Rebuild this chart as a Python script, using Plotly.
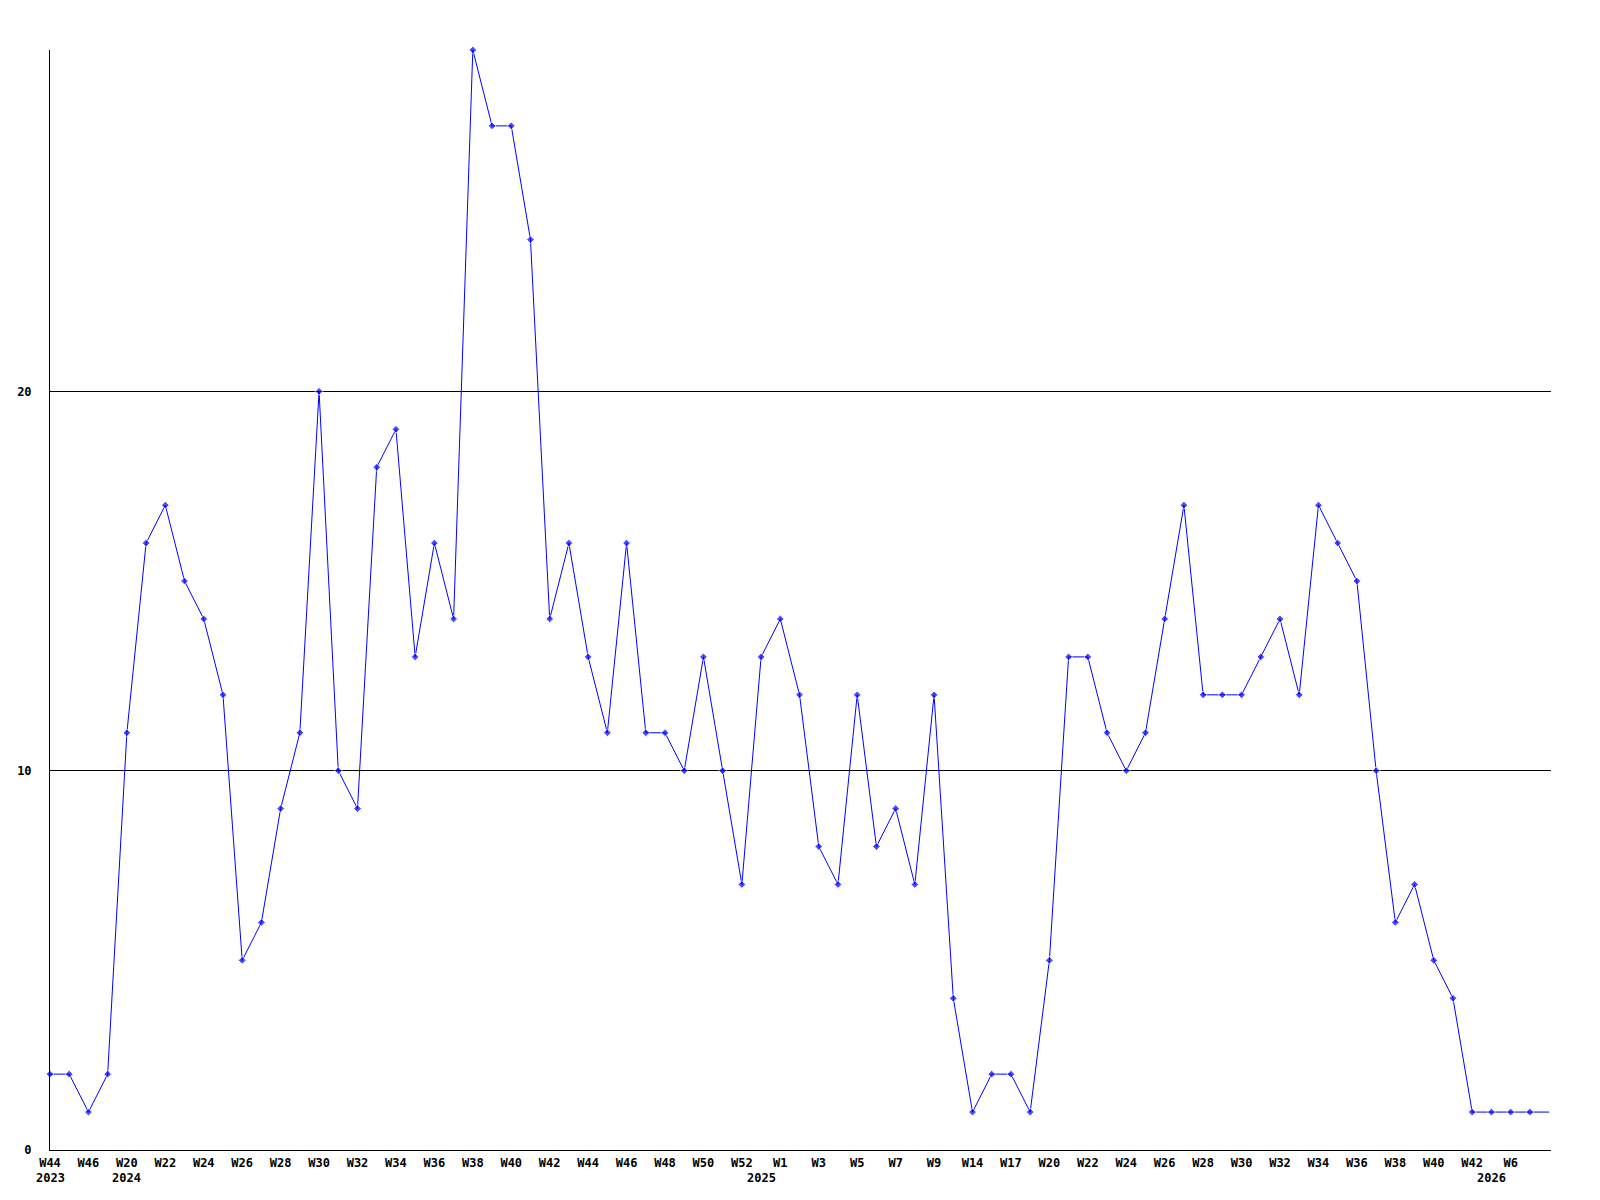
import plotly.graph_objects as go

# Weekly counts (one value per plotted week, left to right)
values = [2, 2, 1, 2, 11, 16, 17, 15, 14, 12, 5, 6, 9, 11, 20, 10, 9, 18, 19, 13,
          16, 14, 29, 27, 27, 24, 14, 16, 13, 11, 16, 11, 11, 10, 13, 10, 7, 13, 14, 12,
          8, 7, 12, 8, 9, 7, 12, 4, 1, 2, 2, 1, 5, 13, 13, 11, 10, 11, 14, 17,
          12, 12, 12, 13, 14, 12, 17, 16, 15, 10, 6, 7, 5, 4, 1, 1, 1, 1, 1]

# Tick labels shown every other week
tick_labels = ["W44", "W46", "W20", "W22", "W24", "W26", "W28", "W30", "W32", "W34",
               "W36", "W38", "W40", "W42", "W44", "W46", "W48", "W50", "W52", "W1",
               "W3", "W5", "W7", "W9", "W14", "W17", "W20", "W22", "W24", "W26",
               "W28", "W30", "W32", "W34", "W36", "W38", "W40", "W42", "W6"]
tick_positions = list(range(0, 2 * len(tick_labels), 2))

# Year labels and the point index where each year starts
year_labels = ["2023", "2024", "2025", "2026"]
year_positions = [0, 4, 37, 75]

x = list(range(len(values)))
marker_sizes = [6] * (len(values) - 1) + [0]

FONT = "DejaVu Sans Mono"
FS = 12

fig = go.Figure()
fig.add_trace(go.Scatter(
    x=x, y=values, mode="lines+markers",
    line=dict(color="#0000ff", width=1),
    marker=dict(symbol="diamond", size=marker_sizes, color="#0000ff"),
    showlegend=False, hoverinfo="skip", cliponaxis=False,
))

for lab, pos in zip(year_labels, year_positions):
    fig.add_annotation(x=pos, y=0, xref="x", yref="paper", text=lab,
                       showarrow=False, yanchor="top", yshift=-19,
                       font=dict(family=FONT, size=FS, color="black", weight="bold"))

fig.update_layout(
    width=1600, height=1200,
    margin=dict(l=42, r=57, t=42, b=58, autoexpand=False),
    paper_bgcolor="white", plot_bgcolor="white",
    showlegend=False,
    font=dict(family=FONT, size=FS, color="black", weight="bold"),
)
fig.update_xaxes(
    range=[0, len(values) - 1 + 0.1],
    tickmode="array", tickvals=tick_positions, ticktext=tick_labels,
    tickangle=0, showgrid=False, zeroline=False, automargin=False,
    showline=True, linecolor="black", linewidth=1,
    ticks="", ticklabelstandoff=2,
    tickfont=dict(family=FONT, size=FS, color="black", weight="bold"),
)
fig.update_yaxes(
    range=[0, 29],
    tickmode="array", tickvals=[0, 10, 20], ticktext=["0", "10", "20"],
    showgrid=True, gridcolor="black", gridwidth=1, zeroline=False, automargin=False,
    showline=True, linecolor="black", linewidth=1,
    ticks="", ticklabelstandoff=15,
    tickfont=dict(family=FONT, size=FS, color="black", weight="bold"),
)

fig.write_html("out.html")
